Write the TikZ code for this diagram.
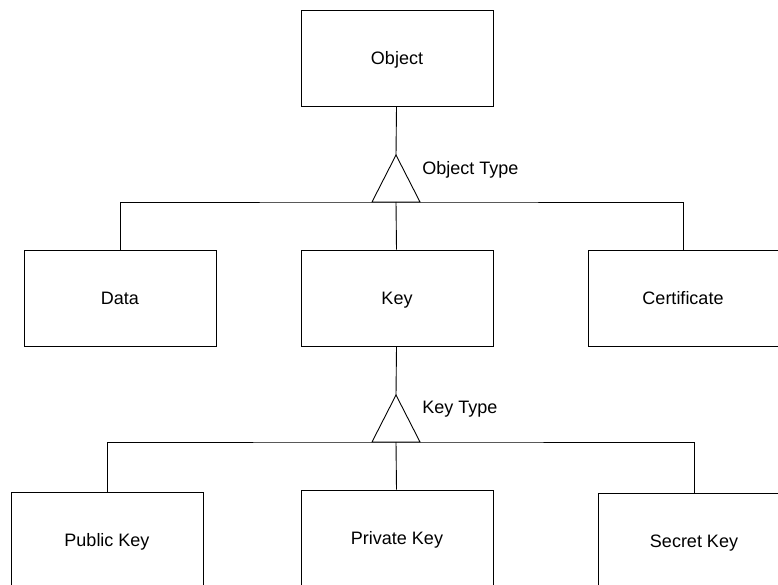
\documentclass[tikz,border=0pt]{standalone}
\usepackage{fontspec}
\setmainfont{Liberation Sans}

\begin{document}
\begin{tikzpicture}
  [x=1pt,y=-1pt,line width=.9pt,
   every node/.style={font=\fontsize{18}{21}\selectfont},
   entity/.style={draw,minimum width=192pt,minimum height=96pt,inner sep=0pt,
     text height=13pt,text depth=0pt}]
  \clip (0,0) rectangle (778,585);

  \node[entity] (object) at (397,58) {Object};
  \node[entity] (data) at (120,298) {Data};
  \node[entity] (key) at (397,298) {Key};
  \node[entity,minimum width=190pt] (cert) at (683,298) {Certificate};
  \node[entity] (public) at (107,540) {Public Key};
  \node[entity] (private) at (397,538) {Private Key};
  \node[entity] (secret) at (694,541) {Secret Key};

  % triangles
  \coordinate (objtype) at (396,155);
  \coordinate (objbar) at (396,202);
  \coordinate (keytype) at (396,395);
  \coordinate (keybar) at (396,442);
  \draw (objtype) -- ++(-24,47) -- ++(48,0) -- cycle;
  \draw (keytype) -- ++(-24,47) -- ++(48,0) -- cycle;
  \node[anchor=west,inner sep=0pt] (objlabel) at (422,170) {Object Type};
  \node[anchor=west,inner sep=0pt] (keylabel) at (422,409) {Key Type};

  \foreach \from/\to in {object/objtype,objbar/key,key/keytype,keybar/private}
    \draw (\from) -- (\to);
  \draw (data.north) |- (objbar) -| (cert.north);
  \draw (public.north) |- (keybar) -| (secret.north);

\end{tikzpicture}
\end{document}
